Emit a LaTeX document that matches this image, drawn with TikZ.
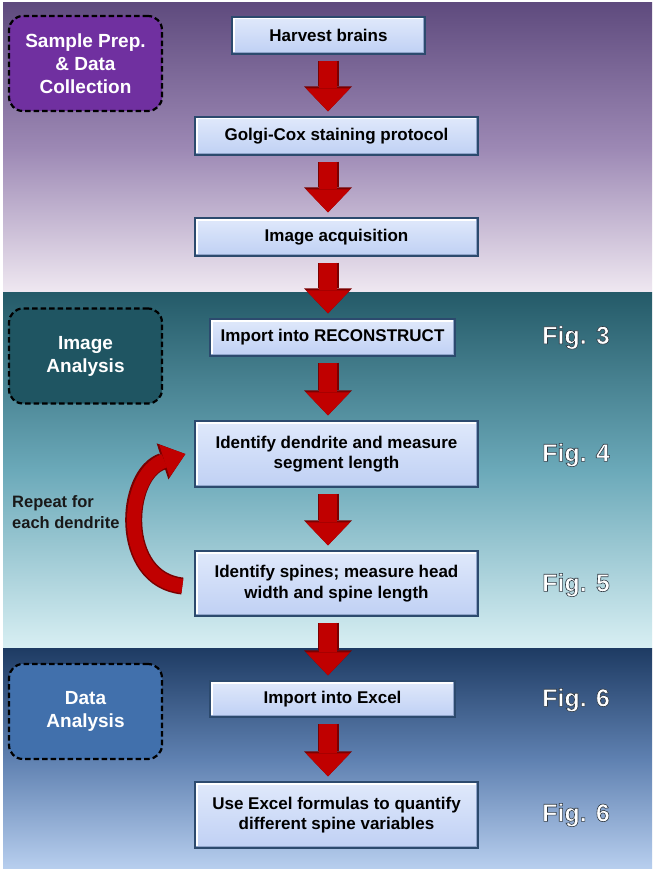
\documentclass[tikz,border=0pt]{standalone}
\usepackage{fontspec}
\setmainfont{Liberation Sans}
\usetikzlibrary{arrows.meta}

\definecolor{purpletop}{HTML}{5F4B7E}
\definecolor{purplemid}{HTML}{9C88B4}
\definecolor{purplebot}{HTML}{EFE8F1}
\definecolor{tealtop}{HTML}{245A68}
\definecolor{tealmid}{HTML}{6BA9B9}
\definecolor{tealbot}{HTML}{D8EFF3}
\definecolor{navytop}{HTML}{1E3B63}
\definecolor{navymid}{HTML}{5E80B0}
\definecolor{navybot}{HTML}{B7CEEE}
\definecolor{prepfill}{HTML}{7030A0}
\definecolor{imagefill}{HTML}{1F5562}
\definecolor{datafill}{HTML}{4170AC}
\definecolor{boxtop}{HTML}{E0E9FB}
\definecolor{boxbot}{HTML}{BFD0F4}
\definecolor{boxedge}{HTML}{2C4A6E}
\definecolor{boxshade}{HTML}{8FA4CA}
\definecolor{arrowred}{HTML}{C00000}
\definecolor{arrowdark}{HTML}{7A0000}

\newcommand{\glowtext}[1]{\special{pdf:literal direct 2 Tr 0.6 w 0.18 0.22 0.26 RG}#1\special{pdf:literal direct 0 Tr}}

\begin{document}
\begin{tikzpicture}[x=1pt,y=-1pt]
    \tikzstyle{every node}=[font=\bfseries];
    \tikzstyle{stepbox}=[draw=boxedge, line width=1.3pt, top color=boxtop, bottom color=boxbot,
        minimum width=283pt, minimum height=38pt, inner sep=0pt, align=center,
        font=\bfseries\fontsize{17}{20.5}\selectfont,
        path picture={
            \draw[white, line width=5pt] (path picture bounding box.south west) |- (path picture bounding box.north east);
            \draw[boxshade, line width=4pt] (path picture bounding box.south west) -| (path picture bounding box.north east);
        }];
    \tikzstyle{stagebox}=[draw=black, line width=2.2pt, dash pattern=on 5.5pt off 3pt, rounded corners=14pt,
        minimum width=153pt, minimum height=95pt, text=white, align=center,
        font=\bfseries\fontsize{19}{23}\selectfont];
    \tikzstyle{figtext}=[text=white, font=\bfseries\fontsize{25}{25}\selectfont];
    \tikzstyle{fatarrow}=[draw=arrowred, line width=18pt, shorten <=6pt, shorten >=5pt,
        -{Triangle[width=44pt,length=23pt,line width=0pt]},
        preaction={draw=arrowdark, line width=21pt, -{Triangle[width=48pt,length=25pt,line width=0pt]}}];

    \useasboundingbox (0,0) rectangle (656,872);
    \fill[white] (0,0) rectangle (656,872);
    \shade[top color=purpletop, bottom color=purplebot, middle color=purplemid] (3,3) rectangle (652,292);
    \shade[top color=tealtop, bottom color=tealbot, middle color=tealmid] (3,292) rectangle (652,648);
    \shade[top color=navytop, bottom color=navybot, middle color=navymid] (3,648) rectangle (652,868);

    \node[stagebox, fill=prepfill] (prep) at (85.5,63.5) {Sample Prep.\\\& Data\\Collection};
    \node[stagebox, fill=imagefill] (imaging) at (85.5,356) {Image\\Analysis};
    \node[stagebox, fill=datafill] (dataan) at (85.5,711.5) {Data\\Analysis};

    \node[stepbox, minimum width=193pt, minimum height=37pt] (harvest) at (328.5,35.5) {Harvest brains};
    \node[stepbox] (golgi) at (336.5,136) {Golgi-Cox staining protocol};
    \node[stepbox] (acquire) at (336.5,237) {Image acquisition};
    \node[stepbox, minimum width=245pt, minimum height=37pt] (recon) at (332.5,337.5) {Import into RECONSTRUCT};
    \node[stepbox, minimum height=66pt] (dendrite) at (336.5,454) {Identify dendrite and measure\\segment length};
    \node[stepbox, minimum height=65pt] (spines) at (336.5,583.5) {Identify spines; measure head\\width and spine length};
    \node[stepbox, minimum width=245pt, minimum height=36pt] (excel) at (332.5,699) {Import into Excel};
    \node[stepbox, minimum height=66pt] (formulas) at (336.5,815) {Use Excel formulas to quantify\\different spine variables};

    \node[figtext] (fig3) at (576,337.5) {\glowtext{Fig. 3}};
    \node[figtext] (fig4) at (576,455) {\glowtext{Fig. 4}};
    \node[figtext] (fig5) at (576,585) {\glowtext{Fig. 5}};
    \node[figtext] (fig6a) at (576,700) {\glowtext{Fig. 6}};
    \node[figtext] (fig6b) at (576,815) {\glowtext{Fig. 6}};
    \node[anchor=west, align=left, inner sep=0pt, text=black!90, font=\bfseries\fontsize{16.5}{20.5}\selectfont] (repeat) at (12,512) {Repeat for\\each dendrite};

    \coordinate (spine) at (328,0);
    \draw[fatarrow] (harvest.south -| spine) -- (golgi.north -| spine);
    \draw[fatarrow] (golgi.south -| spine) -- (acquire.north -| spine);
    \draw[fatarrow] (acquire.south -| spine) -- (recon.north -| spine);
    \draw[fatarrow] (recon.south -| spine) -- (dendrite.north -| spine);
    \draw[fatarrow] (dendrite.south -| spine) -- (spines.north -| spine);
    \draw[fatarrow] (spines.south -| spine) -- (excel.north -| spine);
    \draw[fatarrow] (excel.south -| spine) -- (formulas.north -| spine);

    \draw[draw=arrowred, line width=14pt, -{Triangle[width=34pt,length=22pt,line width=0pt]},
        preaction={draw=arrowdark, line width=17pt, -{Triangle[width=38pt,length=24pt,line width=0pt]}}]
        ([shift={(-12,2.5)}]spines.west) to[out=174, in=198, looseness=1.25] ([xshift=-9pt]dendrite.west);
\end{tikzpicture}
\end{document}
